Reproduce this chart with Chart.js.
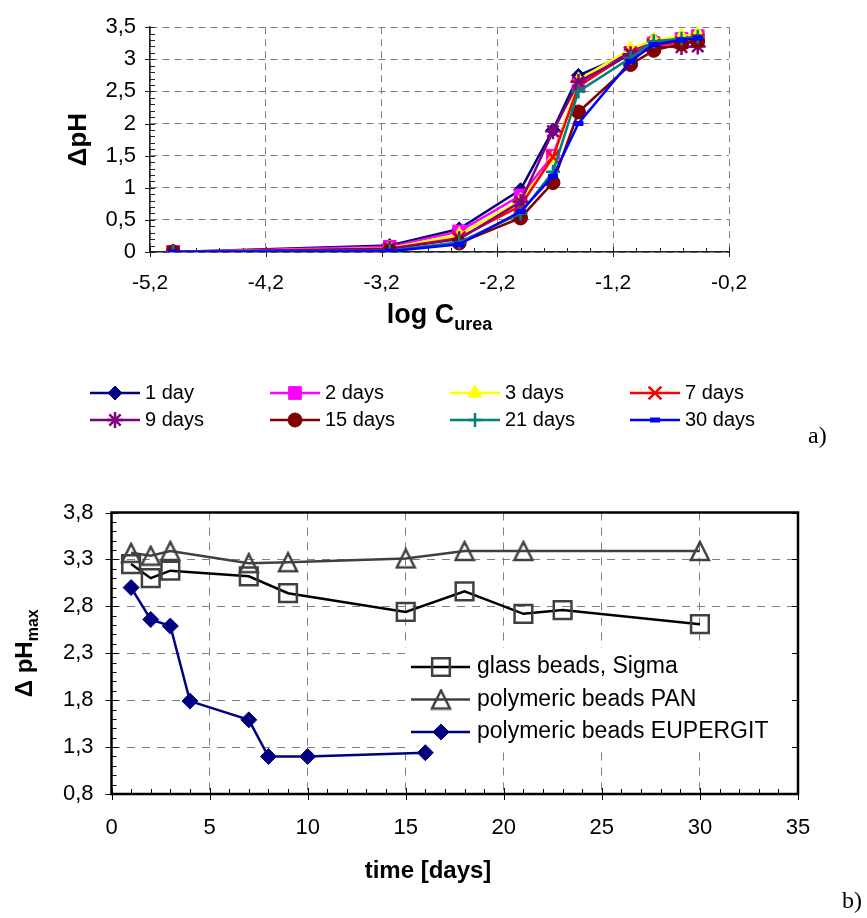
<!DOCTYPE html>
<html>
<head>
<meta charset="utf-8">
<script src="https://cdn.jsdelivr.net/npm/chart.js@4.4.0/dist/chart.umd.min.js"></script>
<style>
  body { margin: 0; background: #fff; width: 867px; height: 918px; position: relative; overflow: hidden; }
  canvas { position: absolute; left: 0; }
  #chartA { top: 0; }
  #chartB { top: 460px; }
  .tag { position: absolute; font-family: "Liberation Serif", "Times New Roman", serif; font-size: 24px; line-height: 24px; }
</style>
</head>
<body>
<canvas id="chartA" width="867" height="460"></canvas>
<canvas id="chartB" width="867" height="458"></canvas>
<div class="tag" style="left:808px; top:423px">a)</div>
<div class="tag" style="left:842px; top:888px">b)</div>

<script>
// ====== Data: chart a) ======
const logC = [-5.0, -3.13, -2.53, -2.0, -1.72, -1.5, -1.05, -0.85, -0.61, -0.47];
const day1 = [0, 0.10, 0.36, 0.97, 1.90, 2.75, 3.10, 3.30, 3.33, 3.36];
const day2 = [0, 0.08, 0.32, 0.88, 1.50, 2.62, 3.10, 3.25, 3.32, 3.36];
const day3 = [0, 0.06, 0.27, 0.80, 1.45, 2.68, 3.16, 3.30, 3.36, 3.40];
const day7 = [0, 0.05, 0.22, 0.72, 1.48, 2.58, 3.10, 3.22, 3.26, 3.30];
const day9 = [0, 0.05, 0.20, 0.78, 1.88, 2.65, 3.08, 3.20, 3.19, 3.20];
const day15 = [0, 0.02, 0.14, 0.53, 1.08, 2.18, 2.92, 3.14, 3.24, 3.28];
const day21 = [0, 0.02, 0.15, 0.60, 1.25, 2.50, 3.02, 3.28, 3.32, 3.35];
const day30 = [0, 0.01, 0.12, 0.63, 1.18, 2.00, 2.97, 3.23, 3.30, 3.33];
const namesA = ["1 day", "2 days", "3 days", "7 days", "9 days", "15 days", "21 days", "30 days"];
const xTicksA = [-5.2, -4.2, -3.2, -2.2, -1.2, -0.2];
const yTicksA = [0, 0.5, 1, 1.5, 2, 2.5, 3, 3.5];

// ====== Data: chart b) ======
const glassDays = [1, 2, 3, 7, 9, 15, 18, 21, 23, 30];
const glassPH = [3.25, 3.10, 3.18, 3.12, 2.94, 2.74, 2.96, 2.72, 2.76, 2.61];
const panDays = [1, 2, 3, 7, 9, 15, 18, 21, 30];
const panPH = [3.37, 3.34, 3.39, 3.26, 3.27, 3.31, 3.39, 3.39, 3.39];
const euDays = [1, 2, 3, 4, 7, 8, 10, 16];
const euPH = [3.00, 2.66, 2.59, 1.79, 1.59, 1.20, 1.20, 1.24];
const namesB = ["glass beads, Sigma", "polymeric beads PAN", "polymeric beads EUPERGIT"];
const xTicksB = [0, 5, 10, 15, 20, 25, 30, 35];
const yTicksB = [0.8, 1.3, 1.8, 2.3, 2.8, 3.3, 3.8];

// ====== Styles ======
const FONT = '"Liberation Sans", Arial, sans-serif';
Chart.defaults.font.family = FONT;
Chart.defaults.color = "#000";

// hollow triangle centred on its point (like Excel's marker)
function hollowTriangle(size, color, lw) {
    const c = document.createElement("canvas");
    c.width = c.height = size + 4;
    const g = c.getContext("2d");
    const m = 2, s = size;
    g.strokeStyle = color;
    g.lineWidth = lw;
    g.lineJoin = "miter";
    g.beginPath();
    g.moveTo(m + s / 2, m);
    g.lineTo(m + s, m + s);
    g.lineTo(m, m + s);
    g.closePath();
    g.stroke();
    return c;
}

const seriesA = [day1, day2, day3, day7, day9, day15, day21, day30];
const stylesA = [
    { color: "#000080", point: "rectRot", r: 7, bw: 1 },
    { color: "#FF00FF", point: "rect", r: 9, bw: 1 },
    { color: "#FFFF00", point: "triangle", r: 8, bw: 1 },
    { color: "#FF0000", point: "crossRot", r: 9, bw: 2.5 },
    { color: "#800080", point: "star", r: 8, bw: 2.5 },
    { color: "#800000", point: "circle", r: 7, bw: 1 },
    { color: "#008080", point: "cross", r: 7, bw: 2.5 },
    { color: "#0000FF", point: "line", r: 5, bw: 5 },
];
const stylesB = [
    { line: "#000000", marker: "#404040", point: "rect", r: 12.5, bw: 2.5, fill: "rgba(0,0,0,0)" },
    { line: "#404040", marker: "#404040", point: hollowTriangle(18, "#404040", 2.5), r: 11, bw: 2.5, fill: "rgba(0,0,0,0)" },
    { line: "#000080", marker: "#000080", point: "rectRot", r: 8, bw: 1, fill: "#000080" },
];

const comma = v => String(Math.round(v * 10) / 10).replace(".", ",");

// axis title, optionally rotated and with a subscript
function titleWithSub(ctx, main, sub, size, subSize, cx, cy, rotated) {
    ctx.save();
    ctx.fillStyle = "#000";
    ctx.textBaseline = "alphabetic";
    ctx.font = `bold ${size}px ${FONT}`;
    const w1 = ctx.measureText(main).width;
    ctx.font = `bold ${subSize}px ${FONT}`;
    const w2 = sub ? ctx.measureText(sub).width : 0;
    ctx.translate(cx, cy);
    if (rotated) ctx.rotate(-Math.PI / 2);
    const start = -(w1 + w2) / 2;
    ctx.font = `bold ${size}px ${FONT}`;
    ctx.fillText(main, start, 0);
    if (sub) {
        ctx.font = `bold ${subSize}px ${FONT}`;
        ctx.fillText(sub, start + w1, Math.round(size * 0.25));
    }
    ctx.restore();
}

// ====== Chart a) plugins ======
const decoA = {
    id: "decoA",
    beforeDatasetsDraw(chart) {
        const { ctx, chartArea: a, scales: { x, y } } = chart;
        ctx.save();
        ctx.strokeStyle = "#222";
        ctx.lineWidth = 1;
        ctx.beginPath();
        for (let k = 0; k <= 35; k++) {
            const py = Math.round(y.getPixelForValue(k / 10)) + 0.5;
            ctx.moveTo(a.left + (k % 5 === 0 ? -5 : 0), py);
            ctx.lineTo(a.left + 5, py);
        }
        for (let k = 0; k <= 25; k++) {
            const px = Math.round(x.getPixelForValue(-5.2 + k * 0.2)) + 0.5;
            ctx.moveTo(px, a.bottom + (k % 5 === 0 ? 5 : 0));
            ctx.lineTo(px, a.bottom - (k % 5 === 0 ? 5 : 4));
        }
        ctx.stroke();
        ctx.restore();
    },
    afterDraw(chart) {
        const { ctx, chartArea: a } = chart;
        titleWithSub(ctx, "log C", "urea", 27, 18, (a.left + a.right) / 2, 323, false);
        titleWithSub(ctx, "ΔpH", "", 26, 17, 86, (a.top + a.bottom) / 2, true);

        // legend, 4 columns x 2 rows
        ctx.save();
        ctx.font = `20px ${FONT}`;
        ctx.textBaseline = "middle";
        namesA.forEach((name, i) => {
            const st = stylesA[i];
            const x0 = 90 + (i % 4) * 180;
            const y0 = 393 + Math.floor(i / 4) * 27;
            ctx.strokeStyle = st.color;
            ctx.fillStyle = st.color;
            ctx.lineWidth = 2.5;
            ctx.beginPath();
            ctx.moveTo(x0, y0);
            ctx.lineTo(x0 + 50, y0);
            ctx.stroke();
            ctx.lineWidth = st.bw;
            Chart.helpers.drawPoint(ctx, { pointStyle: st.point, radius: st.r, rotation: 0, borderWidth: st.bw }, x0 + 25, y0);
            ctx.fillStyle = "#000";
            ctx.fillText(name, x0 + 55, y0);
        });
        ctx.restore();
    },
};

new Chart(document.getElementById("chartA"), {
    type: "line",
    data: {
        datasets: seriesA.map((vals, i) => ({
            label: namesA[i],
            data: vals.map((v, j) => ({ x: logC[j], y: v })),
            borderColor: stylesA[i].color,
            backgroundColor: stylesA[i].color,
            borderWidth: 2.5,
            tension: 0,
            pointStyle: stylesA[i].point,
            pointRadius: stylesA[i].r,
            pointBorderWidth: stylesA[i].bw,
            pointBackgroundColor: stylesA[i].color,
            pointBorderColor: stylesA[i].color,
            order: seriesA.length - i,
        })),
    },
    options: {
        responsive: false,
        animation: false,
        layout: { padding: { left: 100, right: 138, top: 22, bottom: 168 } },
        plugins: { legend: { display: false }, tooltip: { enabled: false } },
        scales: {
            x: {
                type: "linear",
                min: -5.2,
                max: -0.2,
                afterBuildTicks: s => { s.ticks = xTicksA.map(v => ({ value: v })); },
                afterFit: s => { s.height = 40; },
                ticks: { callback: comma, font: { size: 21 }, padding: 19, maxRotation: 0, autoSkip: false },
                grid: { color: "#808080", lineWidth: 1, drawTicks: false },
                border: { display: true, color: "#222", width: 1.5, dash: [7, 5] },
            },
            y: {
                min: 0,
                max: 3.5,
                afterBuildTicks: s => { s.ticks = yTicksA.map(v => ({ value: v })); },
                afterFit: s => { s.width = 50; },
                ticks: { callback: comma, font: { size: 22 }, padding: 14, autoSkip: false },
                grid: { color: "#808080", lineWidth: 1, drawTicks: false },
                border: { display: true, color: "#222", width: 1.5, dash: [7, 5] },
            },
        },
    },
    plugins: [decoA],
});

// ====== Chart b) plugins ======
const decoB = {
    id: "decoB",
    beforeDatasetsDraw(chart) {
        const { ctx, chartArea: a, scales: { x, y } } = chart;
        ctx.save();
        // white legend background hides the grid
        ctx.fillStyle = "#fff";
        ctx.fillRect(405, 188, a.right - 405, 104);

        ctx.strokeStyle = "#000";
        ctx.lineWidth = 1;
        ctx.beginPath();
        for (let k = 0; k <= 30; k++) {
            const py = Math.round(y.getPixelForValue(0.8 + k * 0.1)) + 0.5;
            const major = k % 5 === 0;
            ctx.moveTo(a.left - (major ? 6 : 0), py);
            ctx.lineTo(a.left + (major ? 7 : 5), py);
            if (major) {
                ctx.moveTo(a.right - 6, py);
                ctx.lineTo(a.right, py);
            }
        }
        for (let k = 0; k <= 35; k++) {
            const px = Math.round(x.getPixelForValue(k)) + 0.5;
            const major = k % 5 === 0;
            ctx.moveTo(px, a.bottom + (major ? 6 : 0));
            ctx.lineTo(px, a.bottom - (major ? 6 : 5));
        }
        ctx.stroke();
        ctx.lineWidth = 2.5;
        ctx.strokeRect(a.left, a.top, a.right - a.left, a.bottom - a.top);
        ctx.restore();
    },
    afterDraw(chart) {
        const { ctx, chartArea: a } = chart;
        titleWithSub(ctx, "time [days]", "", 24, 15, 428, 418, false);
        titleWithSub(ctx, "Δ pH", "max", 24, 16, 32, (a.top + a.bottom) / 2, true);

        ctx.save();
        ctx.font = `23px ${FONT}`;
        ctx.textBaseline = "middle";
        namesB.forEach((name, i) => {
            const st = stylesB[i];
            const y0 = 207 + i * 32.5;
            ctx.strokeStyle = st.line;
            ctx.lineWidth = 2.5;
            ctx.beginPath();
            ctx.moveTo(411, y0);
            ctx.lineTo(470, y0);
            ctx.stroke();
            ctx.strokeStyle = st.marker;
            ctx.fillStyle = st.fill;
            ctx.lineWidth = st.bw;
            Chart.helpers.drawPoint(ctx, { pointStyle: st.point, radius: st.r, rotation: 0, borderWidth: st.bw }, 441, y0);
            ctx.fillStyle = "#000";
            ctx.fillText(name, 477, y0);
        });
        ctx.restore();
    },
};

const seriesB = [
    glassDays.map((d, j) => ({ x: d, y: glassPH[j] })),
    panDays.map((d, j) => ({ x: d, y: panPH[j] })),
    euDays.map((d, j) => ({ x: d, y: euPH[j] })),
];

new Chart(document.getElementById("chartB"), {
    type: "line",
    data: {
        datasets: seriesB.map((pts, i) => ({
            label: namesB[i],
            data: pts,
            borderColor: stylesB[i].line,
            backgroundColor: stylesB[i].fill,
            borderWidth: 2.5,
            tension: 0,
            pointStyle: stylesB[i].point,
            pointRadius: stylesB[i].r,
            pointBorderWidth: stylesB[i].bw,
            pointBackgroundColor: stylesB[i].fill,
            pointBorderColor: stylesB[i].marker,
        })),
    },
    options: {
        responsive: false,
        animation: false,
        layout: { padding: { left: 61.5, right: 69, top: 52.5, bottom: 84 } },
        plugins: { legend: { display: false }, tooltip: { enabled: false } },
        scales: {
            x: {
                type: "linear",
                min: 0,
                max: 35,
                afterBuildTicks: s => { s.ticks = xTicksB.map(v => ({ value: v })); },
                afterFit: s => { s.height = 40; },
                ticks: { font: { size: 22 }, padding: 21, maxRotation: 0, autoSkip: false },
                grid: { color: "#808080", lineWidth: 1, drawTicks: false },
                border: { display: false, dash: [8, 7] },
            },
            y: {
                min: 0.8,
                max: 3.8,
                afterBuildTicks: s => { s.ticks = yTicksB.map(v => ({ value: v })); },
                afterFit: s => { s.width = 50; },
                ticks: { callback: v => v.toFixed(1).replace(".", ","), font: { size: 22 }, padding: 18, autoSkip: false },
                grid: { color: "#808080", lineWidth: 1, drawTicks: false },
                border: { display: false, dash: [8, 7] },
            },
        },
    },
    plugins: [decoB],
});
</script>
</body>
</html>
